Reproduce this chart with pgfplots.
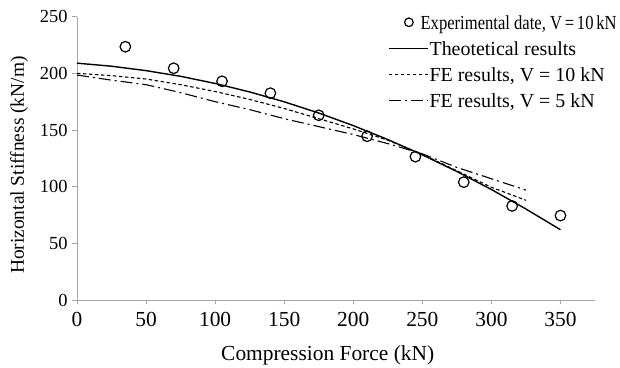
\documentclass[border=0pt]{standalone}
\usepackage{fontspec}
\setmainfont{Liberation Serif}
\usepackage{graphicx}
\usepackage{pgfplots}
\pgfplotsset{compat=1.18}
\definecolor{axgray}{HTML}{A6A6A6}
\newcommand{\lstrut}{\rule[-5.5bp]{0pt}{21bp}}
\pgfplotsset{
  markleg/.style={legend image code/.code={\draw[##1, mark size=4.3bp] plot coordinates {(20bp,0bp)};}},
  lineleg/.style={legend image code/.code={\draw[##1] (0bp,0bp) -- (39bp,0bp);}},
}
\begin{document}
\begin{tikzpicture}
\begin{axis}[
  scale only axis, width=518bp, height=283.3bp,
  xmin=0, xmax=375, ymin=0, ymax=250,
  axis lines*=left,
  axis line style={draw=axgray, line width=0.8bp},
  xtick={0,50,...,350}, ytick={0,50,...,250},
  tick style={draw=axgray, line width=0.8bp},
  tick align=outside, major tick length=4.5bp,
  /pgf/number format/assume math mode=true,
  xticklabel style={font=\fontsize{21.5}{24}\selectfont, yshift=-4bp},
  yticklabel style={font=\fontsize{18.5}{20}\selectfont, xshift=-1.5bp},
  xlabel={Compression Force (kN)},
  ylabel={Horizontal Stiffness (kN/m)},
  xlabel style={font=\fontsize{21.5}{24}\selectfont, at={(axis description cs:0.484,-0.2118)}, anchor=base},
  ylabel style={font=\fontsize{19.5}{22}\selectfont, at={(axis description cs:-0.112,0.476)}, anchor=center},
  legend style={draw=none, fill=none, at={(axis description cs:0.6004,1.011)}, anchor=north west,
    font=\fontsize{20}{22}\selectfont, row sep=9bp, column sep=1bp, inner sep=0bp,
    nodes={inner sep=0bp}},
  legend cell align=left,
]
\addplot[only marks, mark=o, mark size=5.3bp, mark options={line width=1.2bp, fill=white}, draw=black, markleg]
  coordinates {(35,223.5) (70,204.5) (105,193) (140,182.5) (175,163) (210,144.5) (245,126.5) (280,104) (315,83) (350,74.5)};
\addlegendentry{\hspace{-9bp}\resizebox{196bp}{\height}{Experimental date, V\,=\,10\,kN}\lstrut}
\addplot[black, line width=1.4bp, lineleg]
  coordinates {(0,209) (25,206.3) (50,202.4) (75,197.4) (100,191.1) (125,183.6) (150,174.9) (175,165) (200,153.9) (225,141.6) (250,128.1) (275,113.4) (300,97.5) (325,80.3) (350,62)};
\addlegendentry{Theotetical results\lstrut}
\addplot[black, line width=1.1bp, dash pattern=on 3.5bp off 2.5bp, lineleg]
  coordinates {(0,200) (25,198) (50,195) (75,190) (100,184) (125,177) (150,169) (175,160) (200,151) (225,141) (250,128.5) (275,114) (300,99.5) (325,88)};
\addlegendentry{FE results, V = 10 kN\lstrut}
\addplot[black, line width=1.1bp, dash pattern=on 12bp off 4bp on 2bp off 4bp, lineleg]
  coordinates {(0,198.5) (25,194) (50,190) (75,183) (100,175) (125,168) (150,160) (175,153) (200,146) (225,138) (250,129) (275,117) (300,107) (325,97)};
\addlegendentry{FE results, V = 5 kN\lstrut}
\end{axis}
\path (current axis.south west) ++(-77bp,-65bp) rectangle ++(620bp,365bp);
\end{tikzpicture}
\end{document}
